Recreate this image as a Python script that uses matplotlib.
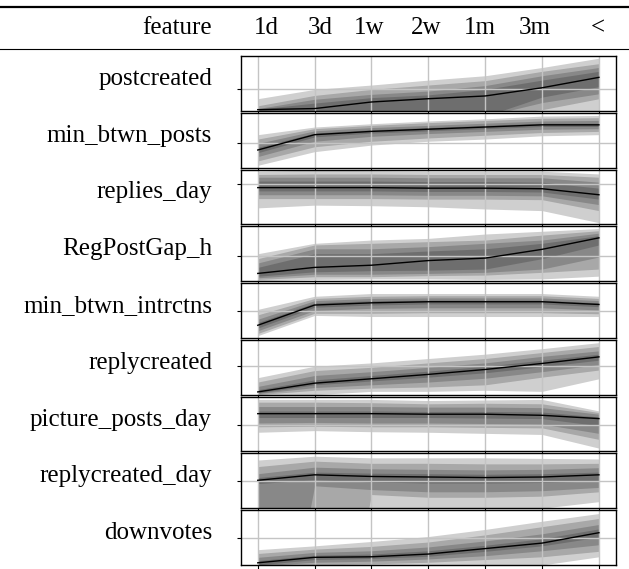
import matplotlib
matplotlib.use("Agg")
import matplotlib.pyplot as plt
from matplotlib.lines import Line2D

plt.rcParams['font.family'] = ['Liberation Serif', 'DejaVu Serif']

# column headers of the table
header = ["1d", "3d", "1w", "2w", "1m", "3m", "<"]
features = ["postcreated", "min_btwn_posts", "replies_day", "RegPostGap_h",
            "min_btwn_intrctns", "replycreated", "picture_posts_day",
            "replycreated_day", "downvotes"]

# y position of the single grid line in each panel (panel height = 1)
ytick_pos = [0.39, 0.44, 0.73, 0.46, 0.50, 0.53, 0.49, 0.49, 0.49]

# quantile rows per panel: q05, q10, q25, q40, q50(median), q60, q75, q90, q95
postcreated = [
    [-.1, -.1, -.1, -.1, -.1, -.1, -.1],
    [-.1, -.1, -.1, -.1, -.1, .02, .22],
    [-.1, -.1, -.1, -.1, -.1, .15, .31],
    [-.1, -.1, -.1, -.1, -.1, .25, .44],
    [.02, .04, .16, .22, .27, .42, .61],
    [.03, .14, .24, .29, .39, .56, .72],
    [.04, .21, .30, .36, .46, .64, .79],
    [.09, .28, .39, .47, .55, .72, .86],
    [.22, .39, .47, .56, .64, .79, .96],
]
min_btwn_posts = [
    [.04, .29, .41, .48, .52, .58, .60],
    [.12, .38, .48, .54, .59, .64, .66],
    [.20, .48, .57, .62, .66, .70, .71],
    [.27, .56, .63, .67, .71, .75, .75],
    [.32, .60, .66, .70, .74, .78, .78],
    [.37, .63, .69, .73, .77, .81, .81],
    [.44, .67, .73, .77, .81, .85, .86],
    [.52, .71, .77, .82, .86, .90, .91],
    [.60, .74, .80, .85, .89, .94, .95],
]
replies_day = [
    [.30, .35, .34, .32, .28, .25, .03],
    [.47, .47, .47, .46, .46, .45, .25],
    [.54, .54, .54, .53, .53, .52, .36],
    [.61, .61, .61, .60, .60, .59, .46],
    [.67, .67, .67, .66, .66, .65, .54],
    [.79, .79, .79, .78, .78, .77, .66],
    [.86, .86, .86, .85, .85, .85, .77],
    [.91, .92, .92, .91, .91, .91, .86],
    [.97, .99, .98, .97, .97, .97, .92],
]
RegPostGap_h = [
    [.01, .03, .04, .04, .03, .04, .09],
    [.03, .08, .08, .10, .11, .16, .22],
    [.06, .125, .125, .14, .16, .22, .44],
    [.09, .17, .19, .20, .22, .41, .66],
    [.14, .25, .29, .375, .42, .58, .79],
    [.25, .50, .50, .55, .59, .69, .83],
    [.33, .59, .59, .63, .69, .75, .875],
    [.41, .66, .69, .72, .75, .84, .92],
    [.50, .69, .75, .78, .86, .91, .96],
]
min_btwn_intrctns = [
    [.04, .41, .39, .39, .39, .39, .39],
    [.08, .45, .45, .46, .46, .46, .44],
    [.13, .50, .54, .55, .55, .55, .51],
    [.18, .56, .60, .62, .62, .62, .57],
    [.23, .60, .64, .66, .66, .66, .61],
    [.28, .64, .68, .69, .69, .69, .64],
    [.34, .68, .72, .73, .73, .73, .68],
    [.42, .72, .76, .77, .77, .77, .72],
    [.52, .76, .81, .81, .81, .81, .76],
]
replycreated = [
    [-.05, .0, .06, .06, .08, .06, .29],
    [.0, .08, .12, .14, .18, .32, .45],
    [.02, .13, .18, .23, .30, .42, .55],
    [.03, .18, .25, .32, .40, .51, .63],
    [.05, .21, .29, .37, .46, .57, .69],
    [.09, .27, .35, .43, .52, .63, .74],
    [.15, .35, .42, .50, .58, .70, .80],
    [.23, .44, .50, .58, .66, .77, .88],
    [.31, .52, .58, .66, .74, .84, .95],
]
picture_posts_day = [
    [.35, .38, .36, .35, .33, .31, .06],
    [.45, .46, .45, .45, .44, .43, .22],
    [.52, .53, .52, .52, .51, .50, .33],
    [.62, .62, .62, .62, .61, .60, .47],
    [.69, .69, .69, .68, .68, .66, .60],
    [.74, .74, .74, .73, .73, .72, .63],
    [.82, .82, .82, .81, .81, .80, .68],
    [.90, .90, .89, .87, .88, .87, .71],
    [.95, .95, .95, .93, .94, .95, .74],
]
replycreated_day = [
    [-5, -5, -5, -.05, -.05, .0, .12],
    [-5, -5, .25, .20, .20, .22, .30],
    [-5, .41, .34, .30, .30, .32, .38],
    [.45, .52, .48, .46, .46, .47, .50],
    [.51, .61, .58, .57, .56, .57, .61],
    [.56, .66, .64, .63, .62, .63, .66],
    [.63, .75, .72, .71, .70, .71, .74],
    [.76, .86, .82, .82, .81, .81, .82],
    [.88, .95, .92, .92, .92, .91, .90],
]
downvotes = [
    [-.1, -.1, -.1, -.1, -.05, .0, .15],
    [-.05, .0, .02, .05, .10, .15, .25],
    [-.02, .05, .07, .11, .17, .26, .37],
    [.0, .10, .12, .16, .25, .35, .51],
    [.04, .14, .15, .20, .30, .40, .59],
    [.08, .18, .20, .26, .36, .48, .66],
    [.14, .23, .26, .33, .44, .57, .74],
    [.21, .29, .34, .42, .55, .70, .85],
    [.28, .35, .43, .52, .65, .80, .94],
]
panels = [postcreated, min_btwn_posts, replies_day, RegPostGap_h,
          min_btwn_intrctns, replycreated, picture_posts_day,
          replycreated_day, downvotes]

W, H = 629, 569
fig = plt.figure(figsize=(W / 100, H / 100), dpi=100)
gs = fig.add_gridspec(len(panels), 1, left=240.7 / W, right=616 / W,
                      top=1 - 56 / H, bottom=1 - 565 / H, hspace=0.037)

xs = list(range(len(header)))
fs = 18

for i, (name, q) in enumerate(zip(features, panels)):
    ax = fig.add_subplot(gs[i])
    # bands from widest to narrowest, stacked with alpha
    for k in range(4):
        ax.fill_between(xs, q[k], q[8 - k], color="black", alpha=0.19,
                        linewidth=0, zorder=1)
    ax.plot(xs, q[4], color="black", linewidth=1.0, zorder=3)
    ax.set_xlim(-0.3, 6.3)
    ax.set_ylim(0, 1)
    ax.set_xticks(xs)
    ax.set_yticks([ytick_pos[i]])
    ax.set_xticklabels([])
    ax.set_yticklabels([])
    ax.grid(True, color="#c4c4c4", linewidth=1.0, zorder=2)
    ax.set_axisbelow(False)
    ax.tick_params(length=3, width=0.8, color="black")
    for s in ax.spines.values():
        s.set_linewidth(1.0)
        s.set_zorder(4)
    pos = ax.get_position()
    fig.text(212 / W, (pos.y0 + pos.y1) / 2 + 0.008, name, ha="right",
             va="center", fontsize=fs)

# header row
fig.text(212 / W, 1 - 28 / H, "feature", ha="right", va="center", fontsize=fs)
hx = [266, 320, 369, 426, 480, 535, 598]
for lab, x in zip(header, hx):
    fig.text(x / W, 1 - 28 / H, lab, ha="center", va="center", fontsize=fs)

fig.add_artist(Line2D([0, 1], [1 - 7 / H, 1 - 7 / H], color="black", linewidth=1.6))
fig.add_artist(Line2D([0, 1], [1 - 48.5 / H, 1 - 48.5 / H], color="black", linewidth=0.8))

fig.savefig("out.png", dpi=100)
